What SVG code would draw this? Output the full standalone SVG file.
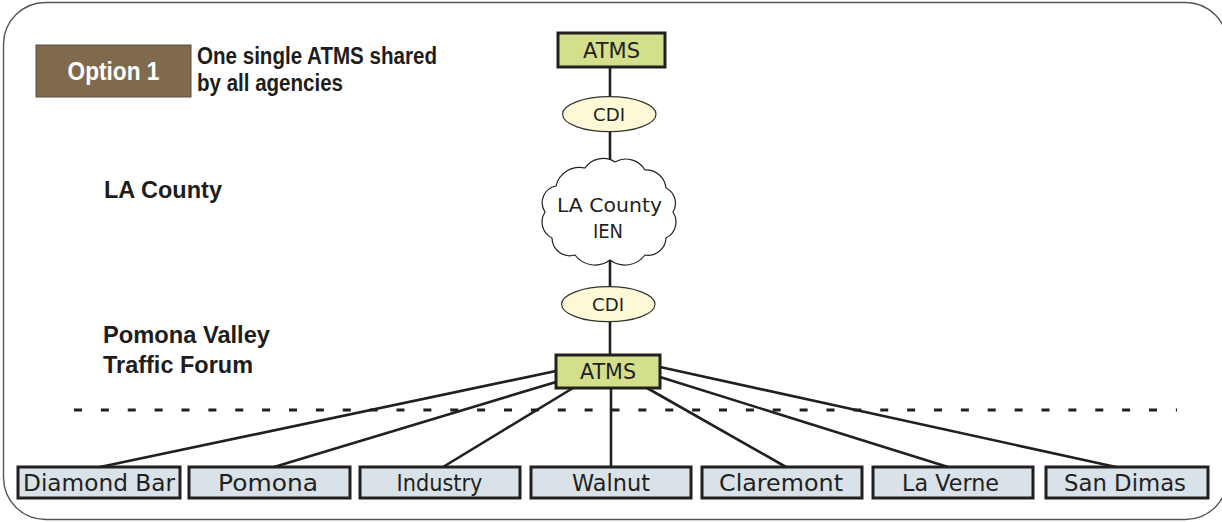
<svg xmlns="http://www.w3.org/2000/svg" width="1222" height="522" viewBox="0 0 1222 522">
<style>
.frame{fill:none;stroke:#555;stroke-width:1.4}
.hdr{font-family:"Liberation Sans",Arial,sans-serif;font-weight:bold;fill:#1d1d1b}
.lbl{font-family:"DejaVu Sans","Liberation Sans",sans-serif;fill:#231f20}
.atms{fill:#d4df8c;stroke:#231f20;stroke-width:3}
.city{fill:#d9e2e8;stroke:#231f20;stroke-width:3}
.cdi{fill:#fdf9d6;stroke:#333;stroke-width:1.2}
.conn{stroke:#231f20;stroke-width:2.6;fill:none}
</style>
<rect class="frame" x="3.5" y="2.5" width="1224" height="517" rx="42" ry="42"/>
<g id="option1">
<rect x="36" y="45" width="155" height="52" fill="#7f6a4e" stroke="#5e4e3a" stroke-width="1"/>
<text class="hdr" x="113.5" y="79.5" font-size="25" style="fill:#fff" text-anchor="middle" textLength="92" lengthAdjust="spacingAndGlyphs">Option 1</text>
</g>
<g id="description">
<text class="hdr" x="197" y="64" font-size="23" textLength="240" lengthAdjust="spacingAndGlyphs">One single ATMS shared</text>
<text class="hdr" x="197" y="91" font-size="23" textLength="146" lengthAdjust="spacingAndGlyphs">by all agencies</text>
</g>
<g id="tier-labels">
<text class="hdr" x="104" y="198" font-size="24" textLength="118" lengthAdjust="spacingAndGlyphs">LA County</text>
<text class="hdr" x="103" y="343" font-size="24.5" textLength="167" lengthAdjust="spacingAndGlyphs">Pomona Valley</text>
<text class="hdr" x="103" y="373" font-size="24.5" textLength="150" lengthAdjust="spacingAndGlyphs">Traffic Forum</text>
</g>
<line x1="74" y1="410" x2="1177" y2="410" stroke="#231f20" stroke-width="3.2" stroke-dasharray="8 18.875"/>
<g id="connectors">
<line class="conn" x1="610" y1="67" x2="610" y2="355"/>
<line class="conn" x1="556" y1="371" x2="100" y2="467"/>
<line class="conn" x1="556" y1="382" x2="274" y2="467"/>
<line class="conn" x1="573" y1="388" x2="443" y2="467"/>
<line class="conn" x1="611" y1="388" x2="611" y2="467"/>
<line class="conn" x1="647" y1="388" x2="786" y2="467"/>
<line class="conn" x1="660" y1="377" x2="948" y2="467"/>
<line class="conn" x1="660" y1="367" x2="1116" y2="467"/>
</g>
<g id="atms-top">
<rect class="atms" x="558" y="33" width="107" height="34"/>
<text class="lbl" x="611.5" y="57.5" font-size="21.5" text-anchor="middle" textLength="57" lengthAdjust="spacingAndGlyphs">ATMS</text>
</g>
<g id="cdi-top">
<ellipse class="cdi" cx="609.3" cy="114.2" rx="46.7" ry="17.5"/>
<text class="lbl" x="609" y="120.7" font-size="17" text-anchor="middle" textLength="32" lengthAdjust="spacingAndGlyphs">CDI</text>
</g>
<g id="la-county-ien">
<path d="M556 186 A24 24 0 0 1 585 168 A22 22 0 0 1 615 162 A22 22 0 0 1 645 170 A20 20 0 0 1 666 188 A17 17 0 0 1 673 212 A18 18 0 0 1 666 238 A18 18 0 0 1 645 255 A25 25 0 0 1 610 260 A25 25 0 0 1 575 255 A18 18 0 0 1 552 238 A18 18 0 0 1 545 212 A17 17 0 0 1 556 186 Z" fill="#fff" stroke="#231f20" stroke-width="1.2"/>
<text class="lbl" x="609.5" y="211.5" font-size="20" text-anchor="middle" textLength="105" lengthAdjust="spacingAndGlyphs">LA County</text>
<text class="lbl" x="608" y="238" font-size="20" text-anchor="middle" textLength="30" lengthAdjust="spacingAndGlyphs">IEN</text>
</g>
<g id="cdi-bottom">
<ellipse class="cdi" cx="608.3" cy="304.2" rx="46.7" ry="17.5"/>
<text class="lbl" x="608" y="310.7" font-size="17" text-anchor="middle" textLength="32" lengthAdjust="spacingAndGlyphs">CDI</text>
</g>
<g id="atms-bottom">
<rect class="atms" x="556" y="355" width="104" height="33"/>
<text class="lbl" x="608" y="379" font-size="21.5" text-anchor="middle" textLength="56" lengthAdjust="spacingAndGlyphs">ATMS</text>
</g>
<g id="diamond-bar">
<rect class="city" x="18" y="467" width="162" height="31"/>
<text class="lbl" x="99" y="490.5" font-size="22.5" text-anchor="middle" textLength="152" lengthAdjust="spacingAndGlyphs">Diamond Bar</text>
</g>
<g id="pomona">
<rect class="city" x="189" y="467" width="161" height="31"/>
<text class="lbl" x="268" y="490.5" font-size="22.5" text-anchor="middle" textLength="100" lengthAdjust="spacingAndGlyphs">Pomona</text>
</g>
<g id="industry">
<rect class="city" x="360" y="467" width="160" height="31"/>
<text class="lbl" x="439.5" y="490.5" font-size="22.5" text-anchor="middle" textLength="86" lengthAdjust="spacingAndGlyphs">Industry</text>
</g>
<g id="walnut">
<rect class="city" x="531" y="467" width="160" height="31"/>
<text class="lbl" x="611" y="490.5" font-size="22.5" text-anchor="middle" textLength="78" lengthAdjust="spacingAndGlyphs">Walnut</text>
</g>
<g id="claremont">
<rect class="city" x="702" y="467" width="160" height="31"/>
<text class="lbl" x="781" y="490.5" font-size="22.5" text-anchor="middle" textLength="124" lengthAdjust="spacingAndGlyphs">Claremont</text>
</g>
<g id="la-verne">
<rect class="city" x="873" y="467" width="160" height="31"/>
<text class="lbl" x="950.5" y="490.5" font-size="22.5" text-anchor="middle" textLength="97" lengthAdjust="spacingAndGlyphs">La Verne</text>
</g>
<g id="san-dimas">
<rect class="city" x="1046" y="467" width="162" height="31"/>
<text class="lbl" x="1125" y="490.5" font-size="22.5" text-anchor="middle" textLength="122" lengthAdjust="spacingAndGlyphs">San Dimas</text>
</g>
</svg>
